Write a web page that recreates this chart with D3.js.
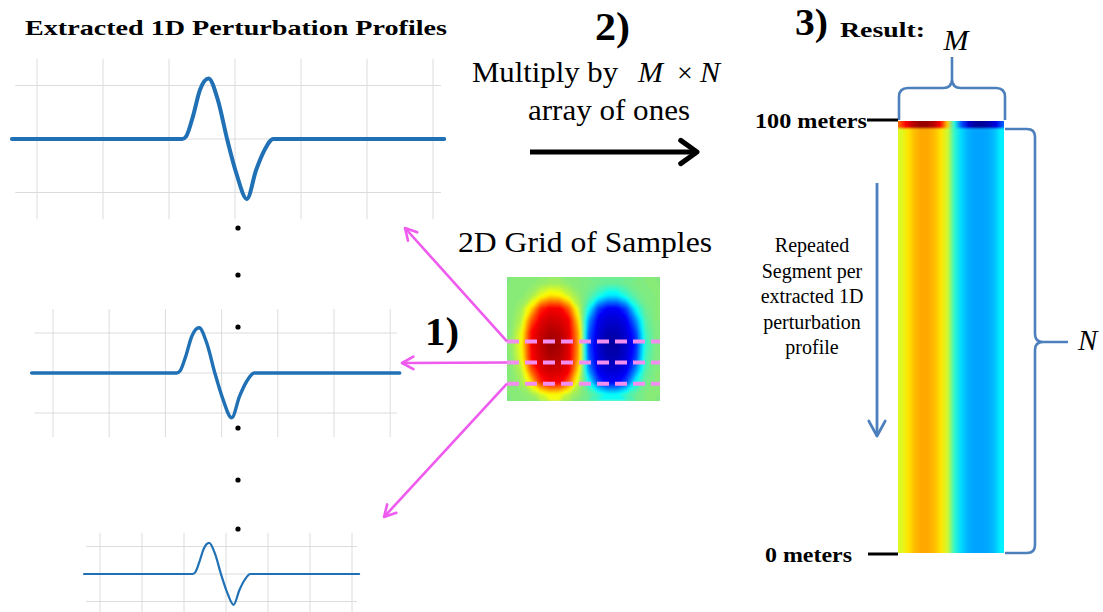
<!DOCTYPE html>
<html>
<head>
<meta charset="utf-8">
<title>Perturbation profiles</title>
<script src="https://cdnjs.cloudflare.com/ajax/libs/d3/7.8.5/d3.min.js"></script>
<style>
  body { margin: 0; background: #fff; }
  svg text { font-family: "Liberation Serif", "Times New Roman", serif; }
</style>
</head>
<body>
<script>
// one extracted 1D profile, in grid units (u along x, v along y)
const profileU = [-0.38, 2.2, 2.26, 2.36, 2.47, 2.6, 2.74, 2.88, 3.02, 3.18, 3.32, 3.45, 3.58, 6.17];
const profileV = [0, 0, 0.05, 0.41, 0.92, 1.13, 0.73, 0, -0.64, -1.12, -0.58, -0.2, 0, 0];
const gridU = [0, 1, 2, 3, 4, 5, 6];
const gridV = [-1, 0, 1];
const dotsY = [228, 275, 327, 428, 480, 529];

// 2D grid of samples, rows top to bottom
const sampleGrid = [
  [0, 0, 0.01, 0.03, 0.05, 0.05, 0.02, 0, -0.01, -0.03, -0.05, -0.05, -0.03, -0.01, 0, 0],
  [0, 0.01, 0.06, 0.20, 0.31, 0.28, 0.14, 0.03, -0.05, -0.17, -0.30, -0.30, -0.16, -0.05, -0.01, 0],
  [0, 0.06, 0.30, 0.66, 0.77, 0.76, 0.55, 0.13, -0.20, -0.61, -0.76, -0.76, -0.60, -0.22, -0.04, 0],
  [0.01, 0.11, 0.57, 0.80, 0.85, 0.83, 0.77, 0.29, -0.44, -0.78, -0.84, -0.84, -0.78, -0.47, -0.08, 0],
  [0.02, 0.21, 0.74, 0.85, 0.91, 0.89, 0.80, 0.41, -0.56, -0.82, -0.90, -0.90, -0.83, -0.63, -0.12, -0.01],
  [0.03, 0.24, 0.76, 0.87, 0.95, 0.92, 0.81, 0.43, -0.60, -0.84, -0.93, -0.93, -0.85, -0.69, -0.15, -0.02],
  [0.02, 0.21, 0.74, 0.85, 0.91, 0.89, 0.80, 0.41, -0.56, -0.82, -0.90, -0.90, -0.83, -0.63, -0.12, -0.01],
  [0.01, 0.11, 0.57, 0.80, 0.85, 0.83, 0.77, 0.29, -0.44, -0.78, -0.84, -0.84, -0.78, -0.47, -0.08, 0],
  [0, 0.06, 0.30, 0.66, 0.77, 0.76, 0.55, 0.13, -0.20, -0.61, -0.76, -0.76, -0.60, -0.22, -0.04, 0],
  [0, 0.01, 0.04, 0.14, 0.24, 0.22, 0.10, 0.02, -0.04, -0.13, -0.23, -0.23, -0.12, -0.04, 0, 0]
];
const extractedRows = [5.2, 6.9, 8.6];

// result strip, columns left to right
const stripCols = [0.18, 0.3, 0.38, 0.42, 0.42, 0.38, 0.3, 0.15, -0.15, -0.32, -0.4, -0.43, -0.43, -0.42, -0.38, -0.28];
const stripTop = [0.55, 0.75, 0.88, 0.95, 0.95, 0.9, 0.75, 0.35, -0.2, -0.6, -0.85, -0.95, -0.95, -0.9, -0.8, -0.55];

const noteLines = ["Repeated", "Segment per", "extracted 1D", "perturbation", "profile"];

const W = 1103, H = 612;
const serif = "'Liberation Serif', 'DejaVu Serif', serif";
const blue = "#1f70b5", pink = "#ee5bee", dashPink = "#f28ef0", brace = "#4d7fbd";

const svg = d3.select("body").append("svg").attr("width", W).attr("height", H);
const defs = svg.append("defs");

const jet = d3.scaleLinear()
  .domain([-1, -0.75, -0.25, 0, 0.25, 0.75, 1])
  .range(["#00007f", "#0000ff", "#00ffff", "#84ea7c", "#ffff00", "#ff0000", "#7f0000"])
  .clamp(true);

function label(x, y, size, str, opts = {}) {
  const t = svg.append("text").attr("x", x).attr("y", y)
    .attr("font-family", serif).attr("font-size", size).text(str);
  if (opts.bold) t.attr("font-weight", "bold");
  if (opts.italic) t.attr("font-style", "italic");
  if (opts.anchor) t.attr("text-anchor", opts.anchor);
  if (opts.len) t.attr("textLength", opts.len).attr("lengthAdjust", "spacingAndGlyphs");
  return t;
}

// ---- left: three profile panels
const panels = [
  {x0: 37, ux: 66, y0: 139, vy: 53.5, lw: 4, span: 1.5},
  {x0: 53, ux: 56.2, y0: 373, vy: 40, lw: 3.4, span: 1.6},
  {x0: 100, ux: 42, y0: 574, vy: 27.5, lw: 2.2, span: 1.5}
];
const profile = profileU.map((u, i) => ({u, v: profileV[i]}));

panels.forEach(p => {
  const x = d3.scaleLinear([0, 1], [p.x0, p.x0 + p.ux]);
  const y = d3.scaleLinear([0, 1], [p.y0, p.y0 - p.vy]);
  const g = svg.append("g");
  g.selectAll(".gv").data(gridU).join("line")
    .attr("x1", d => x(d)).attr("x2", d => x(d))
    .attr("y1", y(p.span)).attr("y2", y(-p.span))
    .attr("stroke", "#dcdcdc").attr("stroke-width", 1);
  g.selectAll(".gh").data(gridV).join("line")
    .attr("x1", x(-0.33)).attr("x2", x(6.12))
    .attr("y1", d => y(d)).attr("y2", d => y(d))
    .attr("stroke", "#dcdcdc").attr("stroke-width", 1);
  g.append("path").datum(profile)
    .attr("d", d3.line().x(d => x(d.u)).y(d => y(d.v)).curve(d3.curveMonotoneX))
    .attr("fill", "none").attr("stroke", blue).attr("stroke-width", p.lw)
    .attr("stroke-linecap", "round");
});

svg.selectAll(".dot").data(dotsY).join("circle")
  .attr("cx", 238).attr("cy", d => d).attr("r", 2.6).attr("fill", "#000");

label(25, 35, 22, "Extracted 1D Perturbation Profiles", {bold: true, len: 422});

// ---- middle: 2D grid of samples
const nx = sampleGrid[0].length, ny = sampleGrid.length;
const hx = d3.scaleLinear([0, nx], [507, 660]);
const hy = d3.scaleLinear([0, ny], [277, 401]);
const step = 0.02;
const contours = d3.contours().size([nx, ny]).thresholds(d3.range(-1, 1, step))(sampleGrid.flat());
const hpath = d3.geoPath(d3.geoTransform({point(px, py) { this.stream.point(hx(px), hy(py)); }}));

defs.append("clipPath").attr("id", "heatClip").append("rect")
  .attr("x", hx(0)).attr("y", hy(0)).attr("width", hx(nx) - hx(0)).attr("height", hy(ny) - hy(0));
defs.append("filter").attr("id", "soft").attr("x", "-5%").attr("y", "-5%").attr("width", "110%").attr("height", "110%")
  .append("feGaussianBlur").attr("stdDeviation", 1.1);

const heat = svg.append("g").attr("clip-path", "url(#heatClip)").append("g").attr("filter", "url(#soft)");
heat.append("rect").attr("x", hx(0) - 4).attr("y", hy(0) - 4)
  .attr("width", hx(nx) - hx(0) + 8).attr("height", hy(ny) - hy(0) + 8).attr("fill", jet(0));
heat.selectAll("path").data(contours).join("path")
  .attr("d", hpath).attr("fill", d => jet(d.value + step / 2));

svg.selectAll(".dash").data(extractedRows).join("line")
  .attr("x1", hx(0)).attr("x2", hx(nx)).attr("y1", d => hy(d)).attr("y2", d => hy(d))
  .attr("stroke", dashPink).attr("stroke-width", 4).attr("stroke-dasharray", "12 6");

function arrow(g, x1, y1, x2, y2, color, width, len, ang) {
  const a = Math.atan2(y1 - y2, x1 - x2);
  const p1 = [x2 + len * Math.cos(a + ang), y2 + len * Math.sin(a + ang)];
  const p2 = [x2 + len * Math.cos(a - ang), y2 + len * Math.sin(a - ang)];
  g.append("line").attr("x1", x1).attr("y1", y1).attr("x2", x2).attr("y2", y2)
    .attr("stroke", color).attr("stroke-width", width);
  g.append("path").attr("d", `M${p1}L${x2},${y2}L${p2}`)
    .attr("fill", "none").attr("stroke", color).attr("stroke-width", width)
    .attr("stroke-linecap", "round").attr("stroke-linejoin", "round");
}
const tips = [[405, 228], [402, 363], [384, 517]];
extractedRows.forEach((r, i) => arrow(svg, hx(0), hy(r), tips[i][0], tips[i][1], pink, 2.6, 13, 0.5));

label(458, 252, 30, "2D Grid of Samples", {len: 254});
label(425, 345, 40, "1)", {bold: true, len: 34});

// step 2
label(595, 40, 40, "2)", {bold: true, len: 35});
label(472, 82, 30, "Multiply by", {len: 146});
label(638, 82, 30, "M", {italic: true});
label(677, 82, 28, "×");
label(700, 82, 30, "N", {italic: true});
label(528, 120, 30, "array of ones", {len: 162});
arrow(svg, 530, 152, 697, 152, "#000", 5, 20, 0.62);

// ---- right: result strip
const sx = [898, 1004], sy = [121, 553];
defs.append("clipPath").attr("id", "stripClip").append("rect")
  .attr("x", sx[0]).attr("y", sy[0]).attr("width", sx[1] - sx[0]).attr("height", sy[1] - sy[0]);
function grad(id, vals) {
  const lg = defs.append("linearGradient").attr("id", id).attr("x1", 0).attr("x2", 1).attr("y1", 0).attr("y2", 0);
  lg.selectAll("stop").data(vals).join("stop")
    .attr("offset", (d, i) => (i + 0.5) / vals.length)
    .attr("stop-color", d => jet(d));
}
grad("stripGrad", stripCols);
grad("topGrad", stripTop);
defs.append("filter").attr("id", "bandBlur").attr("x", "-5%").attr("y", "-100%").attr("width", "110%").attr("height", "300%")
  .append("feGaussianBlur").attr("stdDeviation", "1 1.3");

const strip = svg.append("g").attr("clip-path", "url(#stripClip)");
strip.append("rect").attr("x", sx[0]).attr("y", sy[0]).attr("width", sx[1] - sx[0]).attr("height", sy[1] - sy[0])
  .attr("fill", "url(#stripGrad)");
strip.append("rect").attr("x", sx[0] - 3).attr("y", sy[0] - 2).attr("width", sx[1] - sx[0] + 6).attr("height", 9)
  .attr("fill", "url(#topGrad)").attr("filter", "url(#bandBlur)");

// braces
svg.append("path")
  .attr("d", `M899,120 V97 Q899,88 908,88 H943 Q952,88 952,79 V57 M1005,120 V97 Q1005,88 996,88 H961 Q952,88 952,79`)
  .attr("fill", "none").attr("stroke", brace).attr("stroke-width", 2.6);
svg.append("path")
  .attr("d", `M1005,129 H1027 Q1035,129 1035,137 V334 Q1035,342 1043,342 H1068 M1005,553 H1027 Q1035,553 1035,545 V350 Q1035,342 1043,342`)
  .attr("fill", "none").attr("stroke", brace).attr("stroke-width", 2.6);
arrow(svg, 877, 183, 877, 436, brace, 2.8, 17, 0.5);

label(795, 35, 38, "3)", {bold: true, len: 33});
label(840, 37, 20, "Result:", {bold: true, len: 85});
label(956, 50, 30, "M", {italic: true, anchor: "middle"});
label(1078, 350, 29, "N", {italic: true});

label(755, 128, 21, "100 meters", {bold: true, len: 112});
svg.append("line").attr("x1", 867).attr("x2", 898).attr("y1", 120).attr("y2", 120).attr("stroke", "#000").attr("stroke-width", 3);
label(765, 562, 21, "0 meters", {bold: true, len: 87});
svg.append("line").attr("x1", 868).attr("x2", 898).attr("y1", 554).attr("y2", 554).attr("stroke", "#000").attr("stroke-width", 3);

const note = svg.append("text").attr("font-family", serif).attr("font-size", 20).attr("text-anchor", "middle");
note.selectAll("tspan").data(noteLines).join("tspan")
  .attr("x", 812).attr("y", (d, i) => 252 + i * 25.5).text(d => d);
</script>
</body>
</html>
